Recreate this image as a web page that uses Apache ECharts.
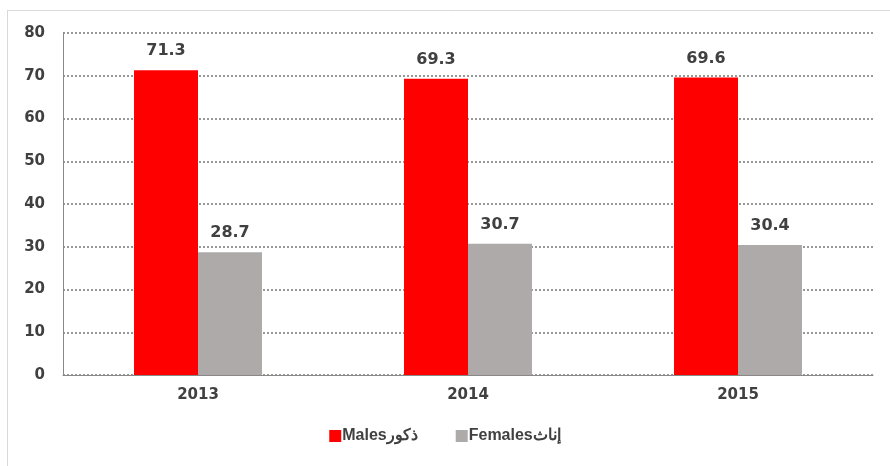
<!DOCTYPE html>
<html>
<head>
<meta charset="utf-8">
<script src="https://cdn.jsdelivr.net/npm/echarts@6/dist/echarts.min.js"></script>
<style>
html,body{margin:0;padding:0;background:#fff;}
#chart{width:890px;height:466px;}
</style>
</head>
<body>
<div id="chart"></div>
<script>
// 年份
var years = ['2013', '2014', '2015'];
// 男 / 女
var males = [71.3, 69.3, 69.6];
var females = [28.7, 30.7, 30.4];
var yTicks = [0, 10, 20, 30, 40, 50, 60, 70, 80];

var font = '"DejaVu Sans", sans-serif';
var legendFont = '"Liberation Sans", Arial, sans-serif';
var txt = '#404040';

var myChart = echarts.init(document.getElementById('chart'));
var option = {
    animation: false,
    graphic: [
        {type: 'line', shape: {x1: 7.5, y1: 10, x2: 7.5, y2: 466}, style: {stroke: '#d9d9d9', lineWidth: 1}},
        {type: 'line', shape: {x1: 7, y1: 10.5, x2: 890, y2: 10.5}, style: {stroke: '#d9d9d9', lineWidth: 1}}
    ],
    grid: {left: 63, right: 17, top: 33, bottom: 91},
    legend: {
        bottom: 17,
        left: 'center',
        itemWidth: 12,
        itemHeight: 12,
        itemGap: 38,
        icon: 'rect',
        textStyle: {fontFamily: legendFont, fontWeight: 'bold', fontSize: 16, color: txt, padding: [0, 0, 0, -4]},
        data: ['Malesذكور', 'Femalesإناث']
    },
    xAxis: {
        type: 'category',
        data: years,
        axisLine: {lineStyle: {color: '#888', width: 1}},
        axisTick: {show: false},
        axisLabel: {fontFamily: font, fontWeight: 'bold', fontSize: 15, color: txt, margin: 13}
    },
    yAxis: {
        type: 'value',
        min: yTicks[0],
        max: yTicks[yTicks.length - 1],
        interval: 10,
        axisLine: {show: true, lineStyle: {color: '#888', width: 1}},
        axisTick: {show: false},
        axisLabel: {fontFamily: font, fontWeight: 'bold', fontSize: 15, color: txt, margin: 18},
        splitLine: {lineStyle: {color: '#777', type: [2, 2], width: 1.5}}
    },
    series: [
        {
            name: 'Malesذكور',
            type: 'bar',
            data: males,
            barGap: '0%',
            barCategoryGap: '52.6%',
            itemStyle: {color: '#ff0000'},
            label: {show: true, position: 'top', distance: 11, fontFamily: font, fontWeight: 'bold', fontSize: 16, color: txt}
        },
        {
            name: 'Femalesإناث',
            type: 'bar',
            data: females,
            itemStyle: {color: '#aeaaaa'},
            label: {show: true, position: 'top', distance: 11, fontFamily: font, fontWeight: 'bold', fontSize: 16, color: txt}
        }
    ]
};
myChart.setOption(option);
</script>
</body>
</html>
